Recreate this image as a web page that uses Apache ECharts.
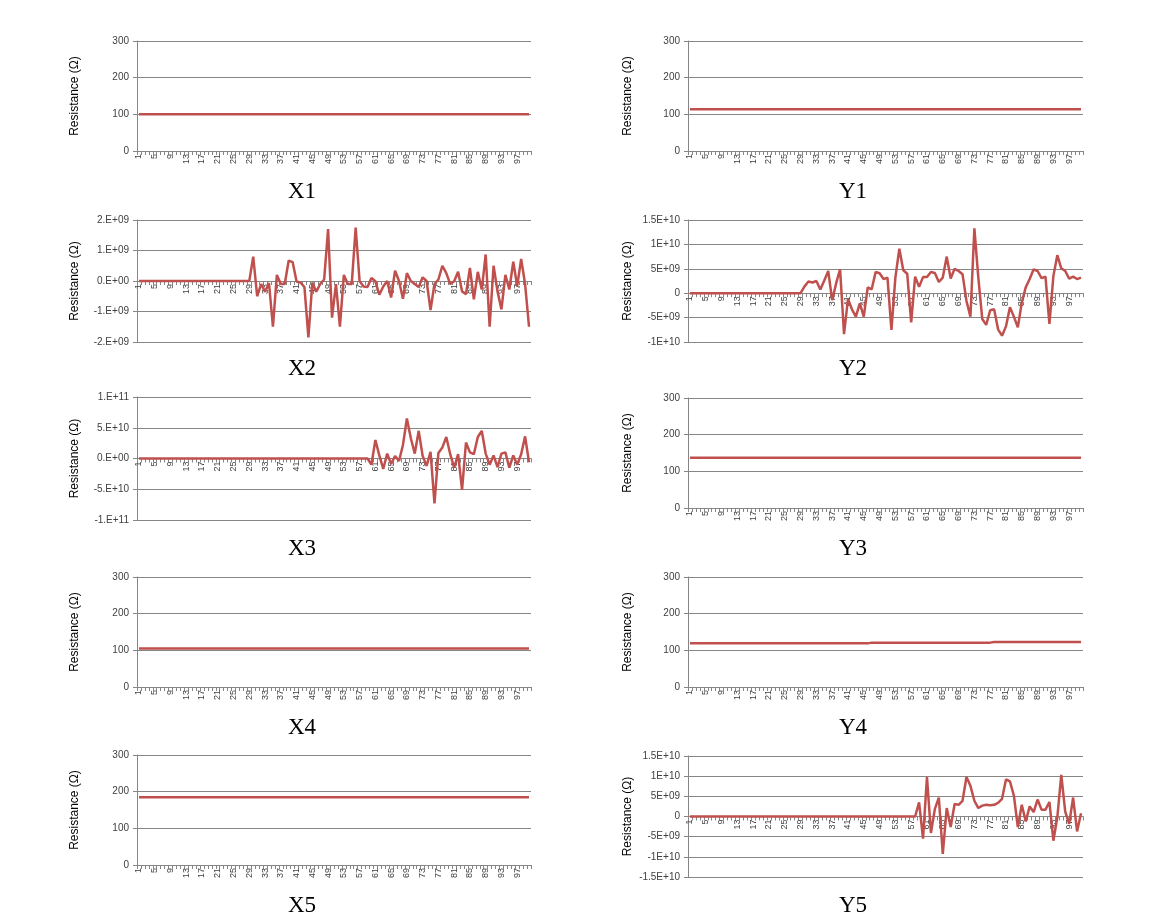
<!DOCTYPE html>
<html><head><meta charset="utf-8">
<script src="https://cdn.jsdelivr.net/npm/echarts@6/dist/echarts.min.js"></script>
<style>html,body{margin:0;padding:0;background:#fff}#c{width:1152px;height:917px}</style>
</head><body><div id="c"></div><script>
// ---------- data ----------
const categories = [
 '1','2','3','4','5','6','7','8','9','10','11','12','13','14','15','16','17','18','19','20',
 '21','22','23','24','25','26','27','28','29','30','31','32','33','34','35','36','37','38','39','40',
 '41','42','43','44','45','46','47','48','49','50','51','52','53','54','55','56','57','58','59','60',
 '61','62','63','64','65','66','67','68','69','70','71','72','73','74','75','76','77','78','79','80',
 '81','82','83','84','85','86','87','88','89','90','91','92','93','94','95','96','97','98','99','100'];

const x1 = [
 100,100,100,100,100,100,100,100,100,100,100,100,100,100,100,100,100,100,100,100,
 100,100,100,100,100,100,100,100,100,100,100,100,100,100,100,100,100,100,100,100,
 100,100,100,100,100,100,100,100,100,100,100,100,100,100,100,100,100,100,100,100,
 100,100,100,100,100,100,100,100,100,100,100,100,100,100,100,100,100,100,100,100,
 100,100,100,100,100,100,100,100,100,100,100,100,100,100,100,100,100,100,100,100];

const y1 = [
 114,114,114,114,114,114,114,114,114,114,114,114,114,114,114,114,114,114,114,114,
 114,114,114,114,114,114,114,114,114,114,114,114,114,114,114,114,114,114,114,114,
 114,114,114,114,114,114,114,114,114,114,114,114,114,114,114,114,114,114,114,114,
 114,114,114,114,114,114,114,114,114,114,114,114,114,114,114,114,114,114,114,114,
 114,114,114,114,114,114,114,114,114,114,114,114,114,114,114,114,114,114,114,114];

const x2 = [
 0,0,0,0,0,0,0,0,0,0,0,0,0,0,0,0,0,0,0,0,
 0,0,0,0,0,0,0,0,0,0.8e9,-0.5e9,-0.1e9,-0.35e9,-0.07e9,-1.5e9,0.2e9,-0.1e9,-0.1e9,0.67e9,0.62e9,
 -0.02e9,-0.05e9,-0.2e9,-1.85e9,-0.05e9,-0.35e9,-0.1e9,0.05e9,1.7e9,-1.2e9,-0.1e9,-1.5e9,0.2e9,-0.1e9,-0.1e9,1.75e9,-0.01e9,-0.18e9,-0.2e9,0.1e9,
 -0.01e9,-0.45e9,-0.18e9,0,-0.54e9,0.34e9,0,-0.58e9,0.26e9,0,-0.1e9,-0.2e9,0.12e9,0,-0.95e9,-0.1e9,0.05e9,0.5e9,0.26e9,-0.1e9,
 -0.01e9,0.3e9,-0.34e9,-0.43e9,0.43e9,-0.6e9,0.3e9,-0.28e9,0.87e9,-1.5e9,0.5e9,-0.34e9,-0.93e9,0.2e9,-0.28e9,0.63e9,-0.17e9,0.72e9,-0.1e9,-1.5e9];

const y2 = [
 0,0,0,0,0,0,0,0,0,0,0,0,0,0,0,0,0,0,0,0,
 0,0,0,0,0,0,0,0,0,1.4e9,2.4e9,2.2e9,2.5e9,0.75e9,2.6e9,4.55e9,-1.43e9,2.0e9,4.9e9,-8.4e9,
 -1.2e9,-3.3e9,-4.8e9,-2.1e9,-4.8e9,1.2e9,0.8e9,4.35e9,4.1e9,2.9e9,3.2e9,-7.5e9,3.2e9,9.1e9,4.7e9,4.0e9,-6.0e9,3.4e9,1.3e9,3.3e9,
 3.3e9,4.35e9,4.15e9,2.3e9,3.2e9,7.5e9,3.0e9,5.0e9,4.55e9,3.9e9,-1.6e9,-4.8e9,13.3e9,3.2e9,-5.3e9,-6.5e9,-3.5e9,-3.3e9,-7.4e9,-8.7e9,
 -6.8e9,-2.9e9,-4.8e9,-7.0e9,-1.9e9,1.2e9,2.9e9,4.9e9,4.55e9,3.1e9,3.4e9,-6.3e9,3.5e9,7.8e9,5.1e9,4.55e9,3.0e9,3.4e9,2.9e9,3.2e9];

const x3 = [
 0,0,0,0,0,0,0,0,0,0,0,0,0,0,0,0,0,0,0,0,
 0,0,0,0,0,0,0,0,0,0,0,0,0,0,0,0,0,0,0,0,
 0,0,0,0,0,0,0,0,0,0,0,0,0,0,0,0,0,0,0,-1.0e10,
 3.0e10,0.5e10,-1.7e10,0.8e10,-0.9e10,0.4e10,-0.4e10,2.2e10,6.5e10,3.3e10,0.8e10,4.5e10,0.4e10,-1.2e10,1.1e10,-7.3e10,0.9e10,1.8e10,3.5e10,0.7e10,
 -1.5e10,0.7e10,-5.1e10,2.6e10,1.0e10,0.7e10,3.5e10,4.5e10,0.8e10,-1.0e10,0.5e10,-1.4e10,0.8e10,1.0e10,-1.5e10,0.5e10,-1.0e10,0.7e10,3.6e10,-0.6e10];

const y3 = [
 137,137,137,137,137,137,137,137,137,137,137,137,137,137,137,137,137,137,137,137,
 137,137,137,137,137,137,137,137,137,137,137,137,137,137,137,137,137,137,137,137,
 137,137,137,137,137,137,137,137,137,137,137,137,137,137,137,137,137,137,137,137,
 137,137,137,137,137,137,137,137,137,137,137,137,137,137,137,137,137,137,137,137,
 137,137,137,137,137,137,137,137,137,137,137,137,137,137,137,137,137,137,137,137];

const x4 = [
 105,105,105,105,105,105,105,105,105,105,105,105,105,105,105,105,105,105,105,105,
 105,105,105,105,105,105,105,105,105,105,105,105,105,105,105,105,105,105,105,105,
 105,105,105,105,105,105,105,105,105,105,105,105,105,105,105,105,105,105,105,105,
 105,105,105,105,105,105,105,105,105,105,105,105,105,105,105,105,105,105,105,105,
 105,105,105,105,105,105,105,105,105,105,105,105,105,105,105,105,105,105,105,105];

const y4 = [
 119,119,119,119,119,119,119,119,119,119,119,119,119,119,119,119,119,119,119,119,
 119,119,119,119,119,119,119,119,119,119,119,119,119,119,119,119,119,119,119,119,
 119,119,119,119,119,119,121,121,121,121,121,121,121,121,121,121,121,121,121,121,
 121,121,121,121,121,121,121,121,121,121,121,121,121,121,121,121,121,123,123,123,
 123,123,123,123,123,123,123,123,123,123,123,123,123,123,123,123,123,123,123,123];

const x5 = [
 185,185,185,185,185,185,185,185,185,185,185,185,185,185,185,185,185,185,185,185,
 185,185,185,185,185,185,185,185,185,185,185,185,185,185,185,185,185,185,185,185,
 185,185,185,185,185,185,185,185,185,185,185,185,185,185,185,185,185,185,185,185,
 185,185,185,185,185,185,185,185,185,185,185,185,185,185,185,185,185,185,185,185,
 185,185,185,185,185,185,185,185,185,185,185,185,185,185,185,185,185,185,185,185];

const y5 = [
 0,0,0,0,0,0,0,0,0,0,0,0,0,0,0,0,0,0,0,0,
 0,0,0,0,0,0,0,0,0,0,0,0,0,0,0,0,0,0,0,0,
 0,0,0,0,0,0,0,0,0,0,0,0,0,0,0,0,0,0,3.5e9,-5.5e9,
 9.8e9,-4.1e9,1.9e9,4.7e9,-9.3e9,2.1e9,-2.6e9,3.1e9,2.9e9,3.9e9,9.8e9,7.6e9,3.9e9,2.1e9,2.7e9,2.9e9,2.8e9,2.9e9,3.4e9,4.4e9,
 9.2e9,8.7e9,5.2e9,-2.6e9,2.9e9,-1.2e9,2.5e9,1.1e9,4.2e9,1.7e9,1.7e9,3.6e9,-6.0e9,-0.2e9,10.3e9,1.2e9,-1.8e9,4.7e9,-3.7e9,0.8e9];

// tick labels
const ticksOhm = ['0','100','200','300'];
const ticksX2 = ['-2.E+09','-1.E+09','0.E+00','1.E+09','2.E+09'];
const ticksY2 = ['-1E+10','-5E+09','0','5E+09','1E+10','1.5E+10'];
const ticksX3 = ['-1.E+11','-5.E+10','0.E+00','5.E+10','1.E+11'];
const ticksY5 = ['-1.5E+10','-1E+10','-5E+09','0','5E+09','1E+10','1.5E+10'];

// ---------- layout ----------
const COL = [
  {left:137, width:394, nameX:75, capX:302},
  {left:688, width:395, nameX:628, capX:853}
];
const panels = [
  {cap:'X1', data:x1, ticks:ticksOhm, min:0, max:300, step:100, col:0, top:41, h:110, capY:192},
  {cap:'Y1', data:y1, ticks:ticksOhm, min:0, max:300, step:100, col:1, top:41, h:110, capY:192},
  {cap:'X2', data:x2, ticks:ticksX2, min:-2e9, max:2e9, step:1e9, col:0, top:220, h:122, capY:369},
  {cap:'Y2', data:y2, ticks:ticksY2, min:-1e10, max:1.5e10, step:5e9, col:1, top:220, h:122, capY:369},
  {cap:'X3', data:x3, ticks:ticksX3, min:-1e11, max:1e11, step:5e10, col:0, top:397, h:123, capY:549},
  {cap:'Y3', data:y3, ticks:ticksOhm, min:0, max:300, step:100, col:1, top:398, h:110, capY:549},
  {cap:'X4', data:x4, ticks:ticksOhm, min:0, max:300, step:100, col:0, top:577, h:110, capY:728},
  {cap:'Y4', data:y4, ticks:ticksOhm, min:0, max:300, step:100, col:1, top:577, h:110, capY:728},
  {cap:'X5', data:x5, ticks:ticksOhm, min:0, max:300, step:100, col:0, top:755, h:110, capY:906},
  {cap:'Y5', data:y5, ticks:ticksY5, min:-1.5e10, max:1.5e10, step:5e9, col:1, top:756, h:121, capY:906}
];

const AX = '#868686';
const FONT = 'Liberation Sans, Arial, sans-serif';
const grid = [], xAxis = [], yAxis = [], series = [], graphic = [];
panels.forEach((p, i) => {
  const c = COL[p.col];
  // category axis sits on the zero line (like the Excel originals)
  const zeroOffset = -p.h * (0 - p.min) / (p.max - p.min);
  grid.push({left:c.left, top:p.top, width:c.width, height:p.h, containLabel:false});
  xAxis.push({
    type:'category', gridIndex:i, data:categories, boundaryGap:true, position:'bottom',
    offset: zeroOffset,
    axisLine:{show:true, onZero:false, lineStyle:{color:AX, width:1}},
    axisTick:{show:true, interval:0, length:4, lineStyle:{color:AX}},
    axisLabel:{interval:3, rotate:90, fontSize:9, color:'#404040', margin:3, fontFamily:FONT},
    splitLine:{show:false}
  });
  yAxis.push({
    type:'value', gridIndex:i, min:p.min, max:p.max, interval:p.step,
    name:'Resistance (\u03A9)', nameLocation:'middle', nameRotate:90, nameGap:c.left - c.nameX - 6,
    nameTextStyle:{fontSize:12, color:'#000', fontFamily:FONT},
    axisLine:{show:true, lineStyle:{color:AX, width:1}},
    axisTick:{show:true, length:4, lineStyle:{color:AX}},
    axisLabel:{fontSize:10, color:'#404040', margin:8, fontFamily:FONT,
      formatter:(v) => p.ticks[Math.round((v - p.min) / p.step)]},
    splitLine:{show:true, lineStyle:{color:AX, width:1}}
  });
  series.push({
    type:'line', xAxisIndex:i, yAxisIndex:i, data:p.data, showSymbol:false, symbol:'none',
    lineStyle:{color:'#c0504d', width:2.5}, itemStyle:{color:'#c0504d'}, animation:false
  });
  graphic.push({
    type:'text', x:c.capX, y:p.capY,
    style:{text:p.cap, fill:'#000', font:'23px "Liberation Serif", "Times New Roman", serif',
      textAlign:'center', textVerticalAlign:'middle'}
  });
});

const chart = echarts.init(document.getElementById('c'), null, {renderer:'canvas'});
chart.setOption({animation:false, backgroundColor:'#fff', grid, xAxis, yAxis, series, graphic});
</script></body></html>
